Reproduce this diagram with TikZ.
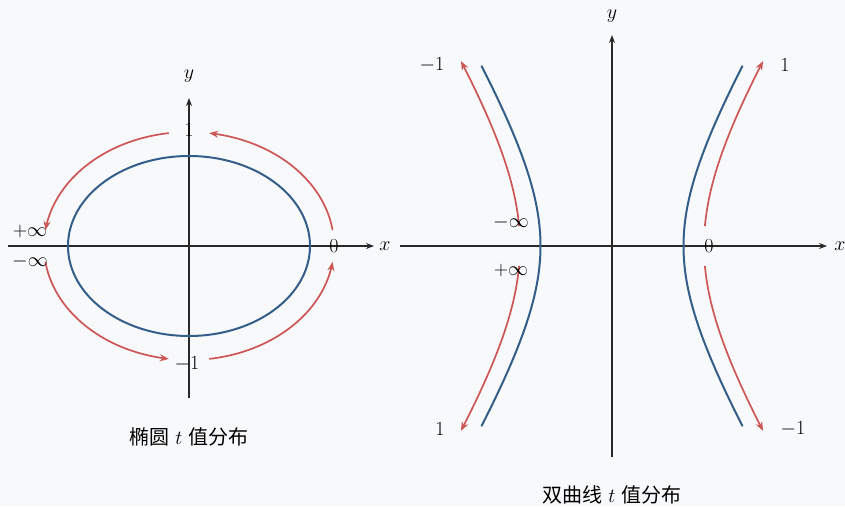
\RequirePackage{fix-cm}
\documentclass[tikz,border=0pt]{standalone}
\usepackage{fontspec}
\newfontfamily\cjk{Noto Sans CJK SC}
\usetikzlibrary{arrows.meta}
\definecolor{bgc}{RGB}{248,249,251}
\definecolor{bluec}{RGB}{52,94,138}
\definecolor{redc}{RGB}{205,86,86}
\definecolor{axc}{RGB}{40,40,40}
\tikzset{
  axis/.style={draw=axc,line width=1.2pt,-{Stealth[length=8pt,width=6pt]}},
  curve/.style={draw=bluec,line width=2pt},
  redarr/.style={draw=redc,line width=1.7pt,-{Stealth[length=9pt,width=7pt]}},
  lab/.style={inner sep=0pt,font=\fontsize{20}{24}\selectfont},
}
\begin{document}
\begin{tikzpicture}[x=1pt,y=1pt]
\fill[bgc] (0,0) rectangle (845,506);
\useasboundingbox (0,0) rectangle (845,506);
% ---------- left: ellipse ----------
\coordinate (O1) at (189,260);
\coordinate (xa1) at (8,260);
\coordinate (xb1) at (374,260);
\coordinate (ya1) at (189,108);
\coordinate (yb1) at (189,408);
\draw[axis] (xa1) -- (xb1);
\draw[axis] (ya1) -- (yb1);
\node[lab] (xl1) at (385,260) {$x$};
\node[lab] (yl1) at (189,430) {$y$};
\draw[curve] (O1) ellipse[x radius=121pt,y radius=90pt];
\draw[redarr] plot[domain=8:82,samples=40,smooth] ({189+145*cos(\x)},{260+114*sin(\x)});
\draw[redarr] plot[domain=98:172,samples=40,smooth] ({189+145*cos(\x)},{260+114*sin(\x)});
\draw[redarr] plot[domain=188:262,samples=40,smooth] ({189+145*cos(\x)},{260+114*sin(\x)});
\draw[redarr] plot[domain=278:352,samples=40,smooth] ({189+145*cos(\x)},{260+114*sin(\x)});
\node[lab] (e1) at (189,376) {$1$};
\node[lab] (em1) at (187,142) {$-1$};
\node[lab] (e0) at (334,260) {$0$};
\node[lab] (epi) at (30,274) {$+\infty$};
\node[lab] (emi) at (30,244) {$-\infty$};
\node[lab] (cap1) at (189,69) {{\cjk 椭圆} $t$ {\cjk 值分布}};
% ---------- right: hyperbola ----------
\coordinate (O2) at (612,260);
\coordinate (xa2) at (400,260);
\coordinate (xb2) at (827,260);
\coordinate (ya2) at (612,49);
\coordinate (yb2) at (612,471);
\draw[axis] (xa2) -- (xb2);
\draw[axis] (ya2) -- (yb2);
\node[lab] (xl2) at (840,260) {$x$};
\node[lab] (yl2) at (612,490) {$y$};
\draw[curve] plot[domain=-1.21:1.21,samples=60,smooth] ({612+71.5*cosh(\x)},{260+118*sinh(\x)});
\draw[curve] plot[domain=-1.21:1.21,samples=60,smooth] ({612-71.5*cosh(\x)},{260+118*sinh(\x)});
\draw[redarr] plot[domain=0.14:1.08,samples=40,smooth] ({612+92*cosh(\x)},{260+142*sinh(\x)});
\draw[redarr] plot[domain=-0.14:-1.08,samples=40,smooth] ({612+92*cosh(\x)},{260+142*sinh(\x)});
\draw[redarr] plot[domain=0.14:1.08,samples=40,smooth] ({612-92*cosh(\x)},{260+142*sinh(\x)});
\draw[redarr] plot[domain=-0.14:-1.08,samples=40,smooth] ({612-92*cosh(\x)},{260+142*sinh(\x)});
\node[lab] (hm1a) at (432,441) {$-1$};
\node[lab] (h1a) at (785,441) {$1$};
\node[lab] (h1b) at (440,77) {$1$};
\node[lab] (hm1b) at (793,77) {$-1$};
\node[lab] (hmi) at (511,283) {$-\infty$};
\node[lab] (hpi) at (511,235) {$+\infty$};
\node[lab] (h0) at (709,260) {$0$};
\node[lab] (cap2) at (612,11) {{\cjk 双曲线} $t$ {\cjk 值分布}};
\end{tikzpicture}
\end{document}
